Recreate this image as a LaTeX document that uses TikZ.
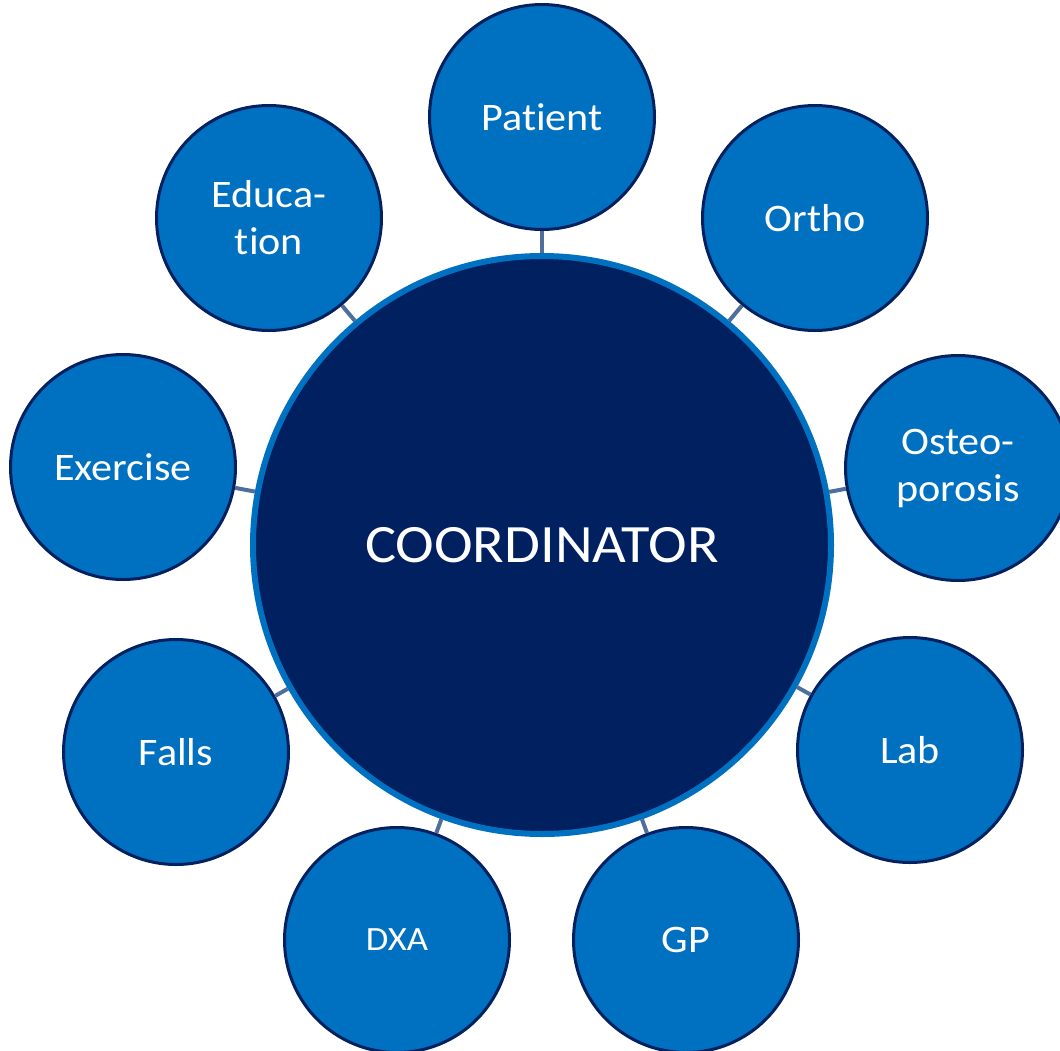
\documentclass[tikz,border=0pt]{standalone}
\usepackage{fontspec}
\setmainfont{Carlito}[FakeStretch=1.08,Ligatures=NoCommon]
\definecolor{satfill}{HTML}{0070C0}
\definecolor{navy}{HTML}{002060}
\definecolor{linkc}{HTML}{4E6E9C}
\begin{document}
\begin{tikzpicture}[x=1pt,y=-1pt,
  sat/.style={circle,fill=satfill,draw=navy,line width=3pt,minimum size=225pt,inner sep=0pt,
    text=white,align=center,font=\fontsize{39}{47}\selectfont},
  hub/.style={circle,fill=navy,draw=satfill,line width=6pt,minimum size=578pt,inner sep=0pt,
    text=white,font=\fontsize{54}{60}\selectfont},
  link/.style={draw=linkc,line width=4pt}]
\useasboundingbox (0,0) rectangle (1060,1050);
\node[hub] (hub) at (542,545) {COORDINATOR};
\node[sat] (patient) at (542,117) {Patient};
\node[sat] (ortho) at (815,218) {Ortho};
\node[sat] (osteo) at (958,468) {Osteo-\\porosis};
\node[sat] (lab) at (910,750) {Lab};
\node[sat] (gp) at (686,940) {GP};
\node[sat,font=\fontsize{34}{40}\selectfont] (dxa) at (397,940) {DXA};
\node[sat] (falls) at (176,752) {Falls};
\node[sat] (exercise) at (123,467) {Exercise};
\node[sat] (education) at (269,218) {Educa-\\tion};
\foreach \n in {patient,ortho,osteo,lab,gp,dxa,falls,exercise,education}{
  \draw[link] (\n) -- (hub);
}
\end{tikzpicture}
\end{document}
